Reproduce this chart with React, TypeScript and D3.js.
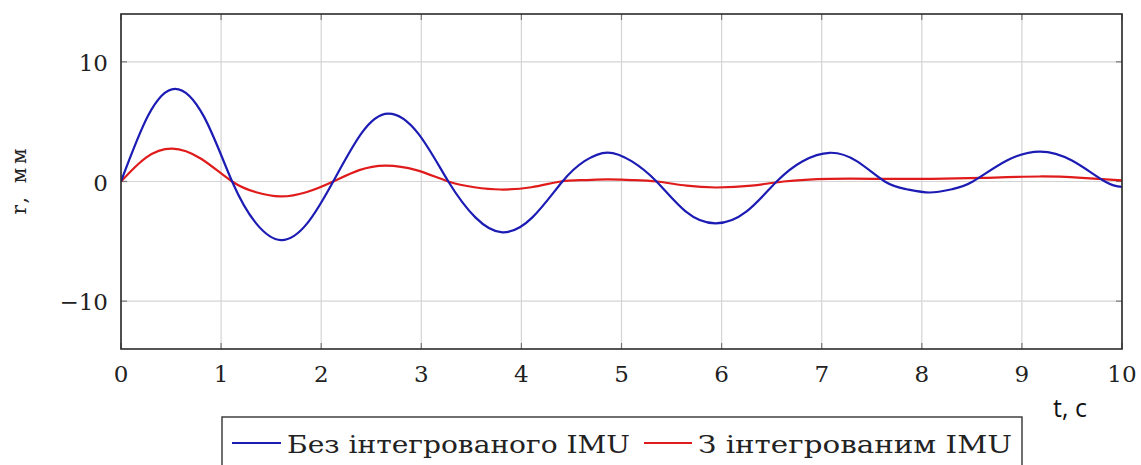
import React from "react";
import * as d3 from "d3";

const blueT = [0, 0.27, 0.54, 0.83, 1.11, 1.35, 1.6, 1.86, 2.12, 2.4, 2.67, 2.97, 3.27, 3.54, 3.81, 4.11, 4.41, 4.63, 4.86, 5.1, 5.35, 5.64, 5.94, 6.25, 6.55, 6.81, 7.08, 7.35, 7.63, 7.85, 8.08, 8.3, 8.51, 8.85, 9.18, 9.5, 9.83, 10];
const blueV = [0, 5.5, 7.75, 5.4, 0, -3.5, -4.9, -3.5, 0, 4.0, 5.67, 4.0, 0, -3.0, -4.25, -3.0, 0, 1.7, 2.42, 1.7, 0, -2.5, -3.5, -2.5, 0, 1.7, 2.4, 1.7, 0, -0.65, -0.92, -0.65, 0, 1.75, 2.5, 1.75, 0, -0.45];

const redT = [0, 0.25, 0.51, 0.8, 1.11, 1.35, 1.59, 1.85, 2.12, 2.38, 2.64, 2.95, 3.27, 3.53, 3.79, 4.1, 4.39, 4.62, 4.86, 5.1, 5.35, 5.65, 5.95, 6.3, 6.62, 7.08, 7.6, 8.1, 8.6, 9.18, 9.6, 10];
const redV = [0, 2.0, 2.75, 1.9, 0, -0.9, -1.25, -0.9, 0, 0.95, 1.33, 0.95, 0, -0.48, -0.67, -0.48, 0, 0.12, 0.17, 0.12, 0, -0.35, -0.5, -0.35, 0, 0.22, 0.22, 0.22, 0.3, 0.42, 0.3, 0.1];

const xTicks = [0, 1, 2, 3, 4, 5, 6, 7, 8, 9, 10];
const yTicks = [-10, 0, 10];
const seriesNames = ["Без інтегрованого IMU", "З інтегрованим IMU"];
const seriesColors = ["#1c1cb4", "#e01b1b"];

export default function App() {
  const W = 1141, H = 465;
  const L = 121, R = 1122, T = 14, B = 349;
  const x = d3.scaleLinear().domain([0, 10]).range([L, R]);
  const y = d3.scaleLinear().domain([-14, 14]).range([B, T]);
  const line = d3
    .line<[number, number]>()
    .x((d) => x(d[0]))
    .y((d) => y(d[1]))
    .curve(d3.curveNatural);
  const blue = blueT.map((t, i) => [t, blueV[i]] as [number, number]);
  const red = redT.map((t, i) => [t, redV[i]] as [number, number]);
  const serif = "DejaVu Serif";
  const tickLen = 6;
  return (
    <svg width={W} height={H} style={{ position: "absolute", left: 0, top: 0, background: "#fff" }}>
      <defs>
        <clipPath id="plotclip">
          <rect x={L} y={T} width={R - L} height={B - T} />
        </clipPath>
      </defs>
      {xTicks.map((t) => (
        <line key={"gx" + t} x1={x(t)} x2={x(t)} y1={T} y2={B} stroke="#d4d4d4" strokeWidth={1.2} />
      ))}
      {yTicks.map((t) => (
        <line key={"gy" + t} x1={L} x2={R} y1={y(t)} y2={y(t)} stroke="#d4d4d4" strokeWidth={1.2} />
      ))}
      {xTicks.map((t) => (
        <g key={"tx" + t}>
          <line x1={x(t)} x2={x(t)} y1={B} y2={B - tickLen} stroke="#777" strokeWidth={1.2} />
          <line x1={x(t)} x2={x(t)} y1={T} y2={T + tickLen} stroke="#777" strokeWidth={1.2} />
        </g>
      ))}
      {yTicks.map((t) => (
        <g key={"ty" + t}>
          <line x1={L} x2={L + tickLen} y1={y(t)} y2={y(t)} stroke="#777" strokeWidth={1.2} />
          <line x1={R} x2={R - tickLen} y1={y(t)} y2={y(t)} stroke="#777" strokeWidth={1.2} />
        </g>
      ))}
      <g clipPath="url(#plotclip)">
        <path d={line(red) || ""} fill="none" stroke={seriesColors[1]} strokeWidth={2.2} />
        <path d={line(blue) || ""} fill="none" stroke={seriesColors[0]} strokeWidth={2.2} />
      </g>
      <rect x={L} y={T} width={R - L} height={B - T} fill="none" stroke="#2a2a2a" strokeWidth={1.6} />
      {xTicks.map((t) => (
        <text key={"lx" + t} x={x(t)} y={382} textAnchor="middle" fontFamily={serif} fontSize={23} fill="#222">
          {t}
        </text>
      ))}
      {yTicks.map((t) => (
        <text key={"ly" + t} x={108} y={y(t) + 9} textAnchor="end" fontFamily={serif} fontSize={23} fill="#222">
          {t < 0 ? "\u2212" + Math.abs(t) : t}
        </text>
      ))}
      <text
        transform={`translate(26,${(T + B) / 2}) rotate(-90)`}
        textAnchor="middle"
        fontFamily={serif}
        fontSize={20}
        textLength={66}
        fill="#222"
      >
        r, мм
      </text>
      <text x={1070} y={417} textAnchor="middle" fontFamily="Open Sans" fontSize={25} fill="#111">
        t, c
      </text>
      <rect x={222} y={417} width={800} height={60} fill="#fff" stroke="#333" strokeWidth={1.4} />
      <line x1={232} x2={281} y1={443} y2={443} stroke={seriesColors[0]} strokeWidth={2.2} />
      <text x={287} y={453} fontFamily={serif} fontSize={24} textLength={343} lengthAdjust="spacingAndGlyphs" fill="#222">
        {seriesNames[0]}
      </text>
      <line x1={644} x2={692} y1={443} y2={443} stroke={seriesColors[1]} strokeWidth={2.2} />
      <text x={698} y={453} fontFamily={serif} fontSize={24} textLength={314} lengthAdjust="spacingAndGlyphs" fill="#222">
        {seriesNames[1]}
      </text>
    </svg>
  );
}
